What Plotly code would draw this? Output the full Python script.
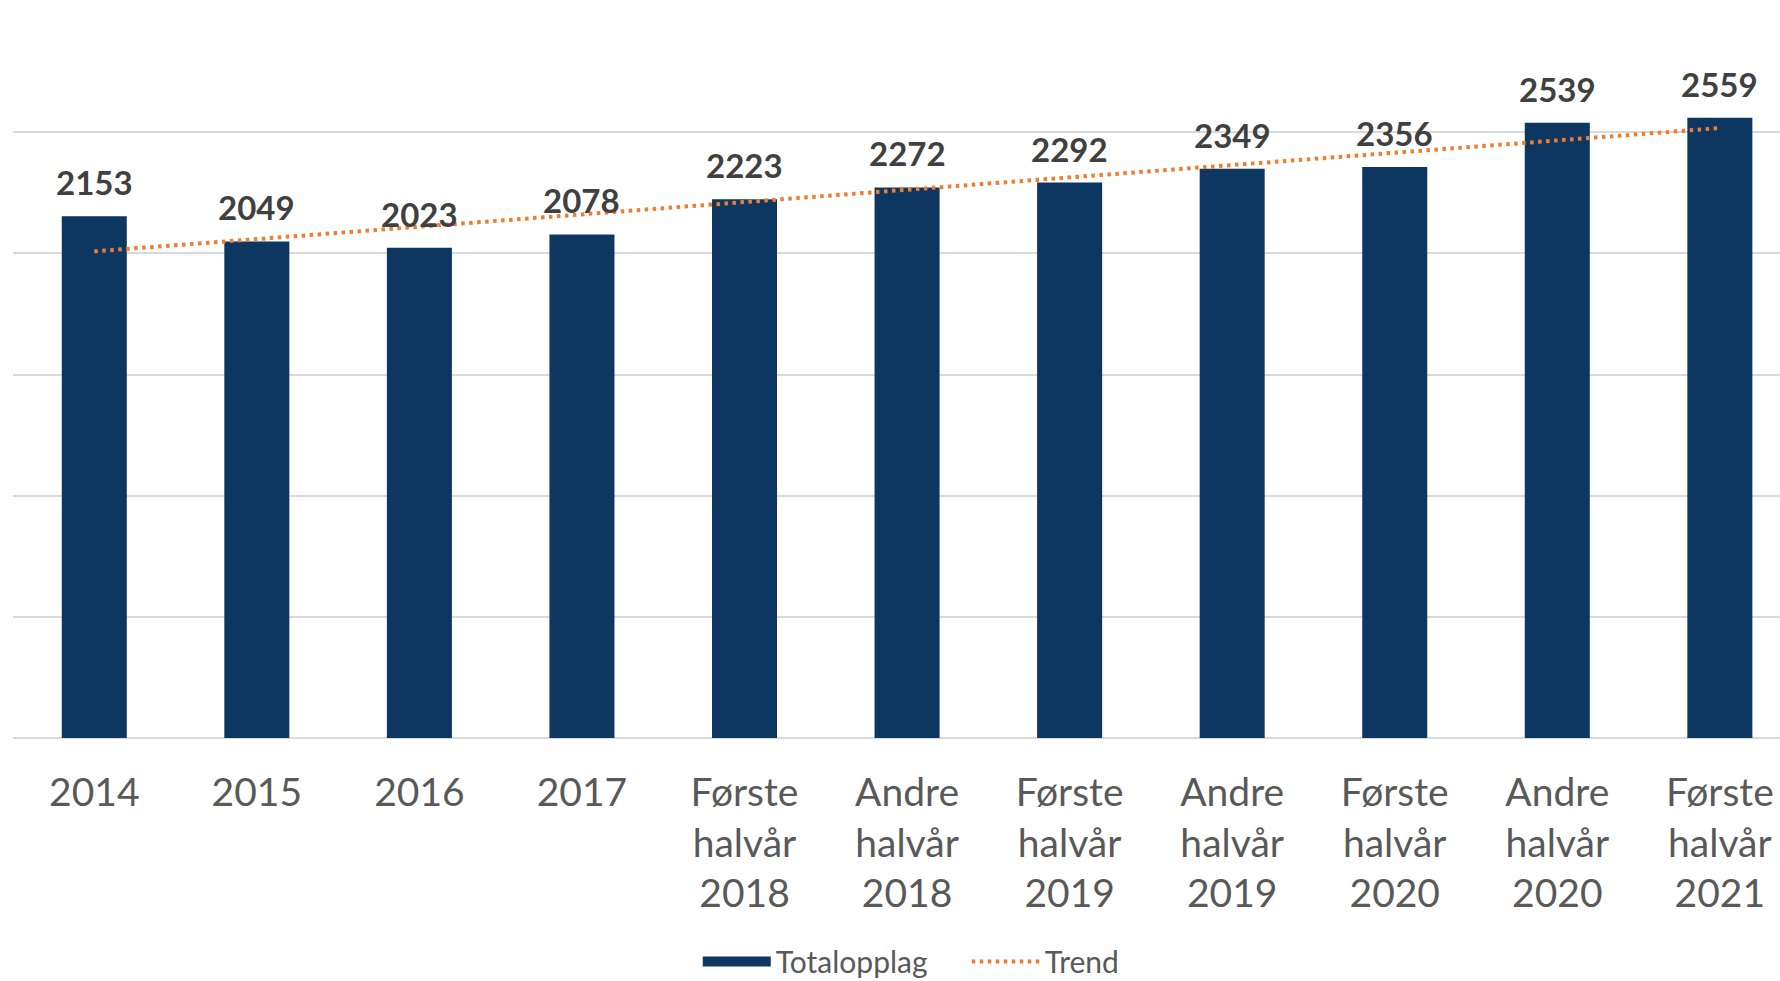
import plotly.graph_objects as go

categories = ["2014", "2015", "2016", "2017",
              "Første<br>halvår<br>2018", "Andre<br>halvår<br>2018",
              "Første<br>halvår<br>2019", "Andre<br>halvår<br>2019",
              "Første<br>halvår<br>2020", "Andre<br>halvår<br>2020",
              "Første<br>halvår<br>2021"]
totalopplag = [2153, 2049, 2023, 2078, 2223, 2272, 2292, 2349, 2356, 2539, 2559]
# linear trend line end points
trend_x = [categories[0], categories[-1]]
trend_y = [2008, 2517]

NAVY = "#0D3660"
ORANGE = "#ED7D31"
FONT = "Lato"

fig = go.Figure()
fig.add_trace(go.Bar(
    x=categories, y=totalopplag, name="Totalopplag",
    marker=dict(color=NAVY, line=dict(width=0)),
    showlegend=False,
))
fig.add_trace(go.Scatter(
    x=[None], y=[None], mode="lines", name="Totalopplag",
    line=dict(color=NAVY, width=19),
))
fig.add_trace(go.Scatter(
    x=trend_x, y=trend_y, mode="lines", name="Trend",
    line=dict(color=ORANGE, width=4, dash="3.5px,4.5px"),
))

for i, v in enumerate(totalopplag):
    fig.add_annotation(
        x=i, y=v, xref="x", yref="y", text=str(v), showarrow=False, yanchor="bottom",
        yshift=12, font=dict(family=FONT, size=33, color="#404040", weight="bold"),
    )

fig.update_layout(
    width=1780, height=981,
    margin=dict(l=13, r=0, t=11, b=243),
    paper_bgcolor="white", plot_bgcolor="white",
    bargap=0.6,
    font=dict(family=FONT, color="#595959"),
    xaxis=dict(
        type="category", range=[-0.5, 10.37],
        showgrid=False, showline=False, zeroline=False,
        tickfont=dict(family=FONT, size=39, color="#595959"),
        ticks="", ticklabelstandoff=28,
    ),
    yaxis=dict(
        range=[0, 3000], dtick=500, showticklabels=False,
        showgrid=True, gridcolor="#D9D9D9", gridwidth=2,
        zeroline=True, zerolinecolor="#D9D9D9", zerolinewidth=2,
        showline=False,
    ),
    legend=dict(
        orientation="h",
        xref="container", x=0.392, xanchor="left",
        yref="container", y=0.02, yanchor="middle",
        font=dict(family=FONT, size=30, color="#595959"),
        itemwidth=68, entrywidth=186, entrywidthmode="pixels",
        bgcolor="rgba(0,0,0,0)",
    ),
)

fig.write_html("out.html", config={"displayModeBar": False},
               post_script="document.body.style.margin='0';")
